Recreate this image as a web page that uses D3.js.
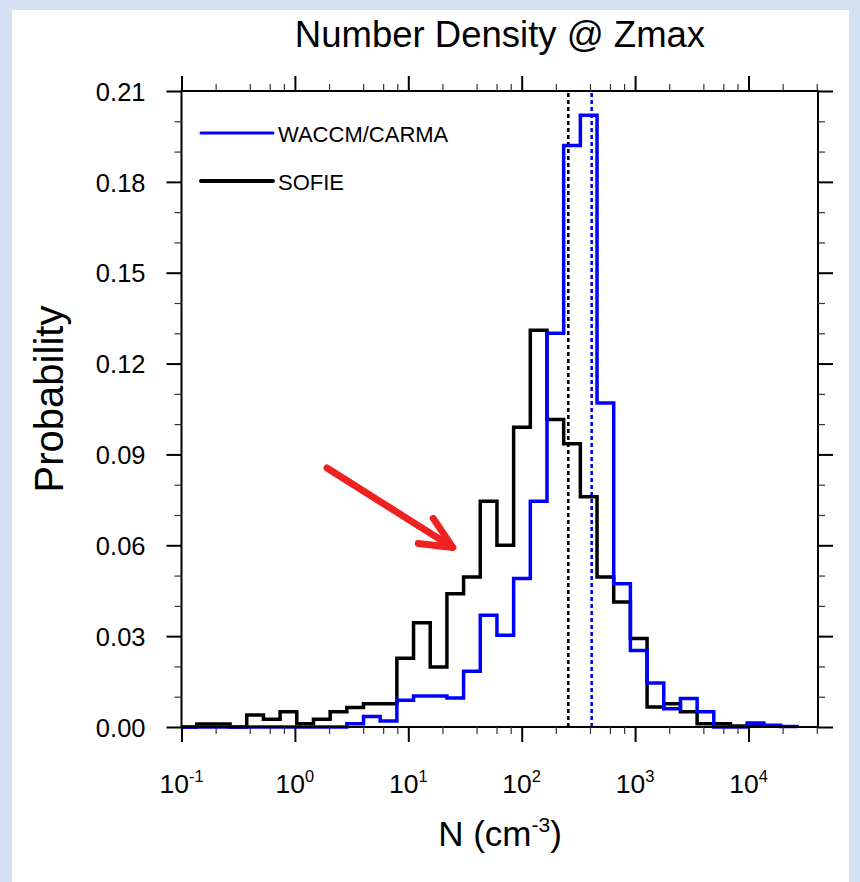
<!DOCTYPE html>
<html>
<head>
<meta charset="utf-8">
<script src="https://cdn.jsdelivr.net/npm/d3@7"></script>
<style>
  html, body { margin: 0; padding: 0; background: #ffffff; }
  svg { display: block; font-family: "Liberation Sans", Arial, Helvetica, sans-serif; }
</style>
</head>
<body>
<svg id="chart" width="860" height="882"></svg>
<script>
// ---------------- DATA ----------------
const title = "Number Density @ Zmax";
const yLabel = "Probability";
const seriesNames = ["WACCM/CARMA", "SOFIE"];
// histogram bins: equal width in log10(N)
const binStartLog = -0.866;
const binWidthLog = 0.1471;
// probability per bin
const waccm = [0, 0, 0, 0, 0, 0, 0, 0, 0, 0.0011, 0.0035, 0.002, 0.0088, 0.0102, 0.0102, 0.0096,
  0.0184, 0.0369, 0.0303, 0.049, 0.0745, 0.130, 0.192, 0.202, 0.107, 0.0473, 0.0253, 0.0145,
  0.006, 0.0094, 0.005, 0, 0, 0.0013, 0.0006, 0.0002];
const sofie = [0.001, 0.001, 0, 0.004, 0.0026, 0.005, 0.0011, 0.0026, 0.005, 0.0064, 0.0077, 0.0077,
  0.0227, 0.0344, 0.0198, 0.044, 0.0495, 0.0745, 0.060, 0.099, 0.131, 0.1015, 0.0935, 0.076,
  0.0495, 0.0413, 0.0292, 0.0066, 0.0077, 0.005, 0.0011, 0.0011, 0.0003, 0.0003, 0.0003];
// medians (dashed lines)
const medianWaccm = 414;
const medianSofie = 257.6;
// axis ticks
const yMajor = [0, 0.03, 0.06, 0.09, 0.12, 0.15, 0.18, 0.21];
const yMinor = [0.01, 0.02, 0.04, 0.05, 0.07, 0.08, 0.10, 0.11, 0.13, 0.14, 0.16, 0.17, 0.19, 0.20];
const xDecadeExp = [-1, 0, 1, 2, 3, 4];
const xMinorMult = [2, 4, 6, 8];
// annotation arrow (data coords: log10 N, probability)
const arrowTail = [0.283, 0.0855];
const arrowTip = [1.392, 0.0593];
const arrowWing1 = [1.220, 0.0689];
const arrowWing2 = [1.088, 0.0606];

// ---------------- LAYOUT ----------------
const svg = d3.select("#chart");
const L = 181.5, R = 818, T = 91, B = 727;

// background
svg.append("rect").attr("x", 0).attr("y", 0).attr("width", 860).attr("height", 882).attr("fill", "#d4e1f3");
svg.append("rect").attr("x", 12).attr("y", 10).attr("width", 837).attr("height", 872).attr("fill", "#ffffff");

const x = d3.scaleLog().domain([0.1, Math.pow(10, 4.613)]).range([L, R]);
const y = d3.scaleLinear().domain([0, 0.21]).range([B, T]);

const edges = d3.range(waccm.length + 1).map(i => Math.pow(10, binStartLog + i * binWidthLog));

function stepPoints(vals) {
  const pts = [[x.domain()[0], 0], [edges[0], 0]];
  vals.forEach((v, i) => { pts.push([edges[i], v]); pts.push([edges[i + 1], v]); });
  pts.push([edges[vals.length], 0]);
  return pts;
}
const line = d3.line().x(d => x(d[0])).y(d => y(d[1]));

const plot = svg.append("g");
// medians
plot.append("line").attr("x1", x(medianSofie)).attr("x2", x(medianSofie))
  .attr("y1", y(0)).attr("y2", y(0.21)).attr("stroke", "#000").attr("stroke-width", 2.6).attr("stroke-dasharray", "4,3");
plot.append("line").attr("x1", x(medianWaccm)).attr("x2", x(medianWaccm))
  .attr("y1", y(0)).attr("y2", y(0.21)).attr("stroke", "#0000ff").attr("stroke-width", 2.6).attr("stroke-dasharray", "4,3");
// histograms
plot.append("path").attr("d", line(stepPoints(sofie))).attr("fill", "none")
  .attr("stroke", "#000").attr("stroke-width", 3.5).attr("stroke-linejoin", "miter");
plot.append("path").attr("d", line(stepPoints(waccm))).attr("fill", "none")
  .attr("stroke", "#0000ff").attr("stroke-width", 3.5).attr("stroke-linejoin", "miter");

// frame
svg.append("rect").attr("x", L).attr("y", T).attr("width", R - L).attr("height", B - T)
  .attr("fill", "none").attr("stroke", "#000").attr("stroke-width", 2);

// axes
const xMajorVals = xDecadeExp.map(e => Math.pow(10, e));
const xMinorVals = [];
xDecadeExp.forEach(e => xMinorMult.forEach(m => { const v = m * Math.pow(10, e); if (v <= x.domain()[1]) xMinorVals.push(v); }));

function styleAxis(g, w, c) {
  g.select(".domain").remove();
  g.selectAll(".tick line").attr("stroke", c || "#000").attr("stroke-width", w);
}
// left
const gL = svg.append("g").attr("transform", `translate(${L},0)`)
  .call(d3.axisLeft(y).tickValues(yMajor).tickSize(15).tickPadding(21).tickFormat(d3.format(".2f")));
styleAxis(gL, 2);
gL.selectAll("text").attr("font-size", 25.5).attr("font-family", "Liberation Sans, Arial, sans-serif").attr("fill", "#000").attr("dy", "0.36em");
const gLm = svg.append("g").attr("transform", `translate(${L},0)`)
  .call(d3.axisLeft(y).tickValues(yMinor).tickSize(7).tickFormat(""));
styleAxis(gLm, 1.2, "#333");
// right
const gR = svg.append("g").attr("transform", `translate(${R},0)`)
  .call(d3.axisRight(y).tickValues(yMajor).tickSize(15).tickFormat(""));
styleAxis(gR, 2);
const gRm = svg.append("g").attr("transform", `translate(${R},0)`)
  .call(d3.axisRight(y).tickValues(yMinor).tickSize(7).tickFormat(""));
styleAxis(gRm, 1.2, "#333");
// bottom
const gB = svg.append("g").attr("transform", `translate(0,${B})`)
  .call(d3.axisBottom(x).tickValues(xMajorVals).tickSize(15).tickFormat(""));
styleAxis(gB, 2);
const gBm = svg.append("g").attr("transform", `translate(0,${B})`)
  .call(d3.axisBottom(x).tickValues(xMinorVals).tickSize(7).tickFormat(""));
styleAxis(gBm, 1.2, "#333");
// top
const gT = svg.append("g").attr("transform", `translate(0,${T})`)
  .call(d3.axisTop(x).tickValues(xMajorVals).tickSize(15).tickFormat(""));
styleAxis(gT, 2);
const gTm = svg.append("g").attr("transform", `translate(0,${T})`)
  .call(d3.axisTop(x).tickValues(xMinorVals).tickSize(7).tickFormat(""));
styleAxis(gTm, 1.2, "#333");

// x tick labels with superscripts
const xl = svg.append("g");
xDecadeExp.forEach(e => {
  const t = xl.append("text").attr("x", x(Math.pow(10, e))).attr("y", B + 66)
    .attr("text-anchor", "middle").attr("font-size", 26.5).attr("fill", "#000");
  t.append("tspan").text("10");
  t.append("tspan").attr("font-size", 16.5).attr("dy", -11).text(String(e));
});

// axis titles
svg.append("text").attr("x", 500).attr("y", 47).attr("text-anchor", "middle")
  .attr("font-size", 36.5).attr("fill", "#000").text(title);
svg.append("text").attr("transform", "translate(63,399) rotate(-90)").attr("text-anchor", "middle")
  .attr("font-size", 40).attr("fill", "#000").text(yLabel);
const xt = svg.append("text").attr("x", 500).attr("y", 846).attr("text-anchor", "middle")
  .attr("font-size", 35).attr("fill", "#000");
xt.append("tspan").text("N (cm");
xt.append("tspan").attr("font-size", 21).attr("dy", -14).text("-3");
xt.append("tspan").attr("dy", 14).text(")");

// legend
const leg = svg.append("g");
const legColors = ["#0000ff", "#000"];
const legWidths = [3, 4];
seriesNames.forEach((n, i) => {
  const yy = 133 + i * 48;
  leg.append("line").attr("x1", 201).attr("x2", 273).attr("y1", yy).attr("y2", yy)
    .attr("stroke", legColors[i]).attr("stroke-width", legWidths[i]).attr("stroke-linecap", "round");
  leg.append("text").attr("x", 278).attr("y", yy + 8.5).attr("font-size", 22).attr("fill", "#000").text(n);
});

// red arrow annotation
const ax = d => x(Math.pow(10, d[0])), ay = d => y(d[1]);
const arrow = svg.append("g").attr("stroke", "#ee2222").attr("stroke-width", 7)
  .attr("stroke-linecap", "round").attr("stroke-linejoin", "round").attr("fill", "none");
arrow.append("path").attr("d", `M${ax(arrowTail)},${ay(arrowTail)} L${ax(arrowTip)},${ay(arrowTip)}`);
arrow.append("path").attr("d", `M${ax(arrowWing1)},${ay(arrowWing1)} L${ax(arrowTip)},${ay(arrowTip)} L${ax(arrowWing2)},${ay(arrowWing2)}`);
</script>
</body>
</html>
